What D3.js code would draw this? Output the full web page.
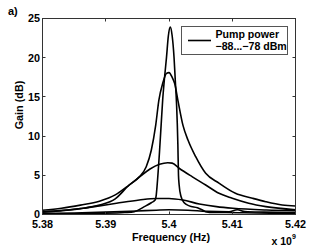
<!DOCTYPE html>
<html><head><meta charset="utf-8">
<script src="https://cdn.jsdelivr.net/npm/d3@7"></script>
<style>
html,body{margin:0;padding:0;background:#fff;}
svg text{font-family:"Liberation Sans",Arial,sans-serif;font-weight:bold;fill:#000;}
</style></head>
<body>
<svg id="chart" width="327" height="246"></svg>
<script>
// ---- data (frequency in units of 1e9 Hz, gain in dB) ----
const freqA = [5.380,5.385,5.390,5.393,5.3945,5.3961,5.3972,5.3978,5.3980,5.3981,5.3985,5.3988,5.3990,5.3993,5.3996,5.3999,5.4002,5.4005,5.4008,5.4010,5.4012,5.4014,5.4015,5.4016,5.4019,5.4024,5.4032,5.4045,5.4052,5.4058,5.4070,5.4090,5.4120,5.4160,5.4200];
const gainA = [0.10,0.10,0.15,0.25,0.36,1.00,1.50,1.85,2.60,3.50,8.00,12.0,14.6,17.5,20.0,22.8,23.9,22.8,20.0,17.0,14.0,9.00,5.00,3.80,2.30,1.50,1.10,0.85,0.60,0.36,0.25,0.25,0.22,0.18,0.15];

const freqB = [5.380,5.383,5.386,5.389,5.3915,5.3937,5.3953,5.3964,5.3972,5.3979,5.3984,5.3990,5.3996,5.4000,5.4005,5.4009,5.4014,5.4022,5.4030,5.4042,5.4058,5.4079,5.4105,5.4132,5.4153,5.4179,5.4200];
const gainB = [0.35,0.50,0.75,1.20,2.00,3.76,4.80,6.10,8.20,11.4,14.6,16.7,18.0,18.1,17.5,16.7,14.6,11.4,9.50,7.40,5.25,4.00,2.70,2.07,1.63,1.21,1.08];

const freqC = [5.380,5.383,5.386,5.389,5.3915,5.3937,5.3955,5.3970,5.3985,5.3998,5.4005,5.4016,5.4037,5.4058,5.4079,5.4100,5.4126,5.4153,5.4200];
const gainC = [0.55,0.80,1.20,1.70,2.50,3.76,4.90,5.80,6.40,6.60,6.55,5.90,4.80,3.76,2.70,2.07,1.43,1.00,0.60];

const freqD = [5.380,5.383,5.3864,5.389,5.3917,5.3953,5.3980,5.4000,5.4022,5.4048,5.4075,5.4101,5.4154,5.4200];
const gainD = [0.30,0.50,0.79,1.10,1.43,1.85,2.05,2.05,1.85,1.34,1.00,0.79,0.57,0.48];

const freqE = [5.380,5.385,5.390,5.395,5.398,5.400,5.403,5.406,5.4095,5.4108,5.4120,5.415,5.420];
const gainE = [0.15,0.20,0.30,0.45,0.55,0.60,0.55,0.40,0.35,0.60,0.38,0.30,0.25];

const xTicks = [5.38,5.39,5.40,5.41,5.42];
const xTickLabels = ["5.38","5.39","5.4","5.41","5.42"];
const yTicks = [0,5,10,15,20,25];
const legendLines = ["Pump power","\u221288...\u221278 dBm"];

const series = [
  {f:freqE,g:gainE},{f:freqD,g:gainD},{f:freqC,g:gainC},{f:freqB,g:gainB},{f:freqA,g:gainA}
];

// ---- layout ----
const svg = d3.select("#chart");
const L=42.5, R=295.5, T=18.5, B=214.5;
const x = d3.scaleLinear().domain([5.38,5.42]).range([L,R]);
const y = d3.scaleLinear().domain([0,25]).range([B,T]);

svg.append("defs").append("clipPath").attr("id","pc")
  .append("rect").attr("x",L).attr("y",T-2).attr("width",R-L).attr("height",B-T+2);

// curves
const line = d3.line().x(d=>x(d[0])).y(d=>y(d[1])).curve(d3.curveMonotoneX);
svg.append("g").attr("clip-path","url(#pc)").selectAll("path").data(series).join("path")
  .attr("d",s=>line(s.f.map((v,i)=>[v,s.g[i]])))
  .attr("fill","none").attr("stroke","#000").attr("stroke-width",1.6).attr("stroke-linejoin","round");

// axes box with inward ticks on all sides
const ax = svg.append("g");
ax.append("rect").attr("x",L).attr("y",T).attr("width",R-L).attr("height",B-T)
  .attr("fill","none").attr("stroke","#333").attr("stroke-width",1);
const tl = 3;
xTicks.forEach(t=>{
  const px = Math.round(x(t)-0.5)+0.5;
  ax.append("line").attr("x1",px).attr("x2",px).attr("y1",B).attr("y2",B-tl).attr("stroke","#333");
  ax.append("line").attr("x1",px).attr("x2",px).attr("y1",T).attr("y2",T+tl).attr("stroke","#333");
});
yTicks.forEach(t=>{
  const py = Math.round(y(t)-0.5)+0.5;
  ax.append("line").attr("x1",L).attr("x2",L+tl).attr("y1",py).attr("y2",py).attr("stroke","#333");
  ax.append("line").attr("x1",R).attr("x2",R-tl).attr("y1",py).attr("y2",py).attr("stroke","#333");
});

// tick labels
svg.append("g").selectAll("text").data(xTicks).join("text")
  .attr("x",d=>x(d)).attr("y",227.5).attr("text-anchor","middle").attr("font-size",10.8)
  .text((d,i)=>xTickLabels[i]);
svg.append("g").selectAll("text").data(yTicks).join("text")
  .attr("x",40).attr("y",d=>y(d)+3.8).attr("text-anchor","end").attr("font-size",10.8)
  .text(d=>d);

// axis labels
svg.append("text").attr("x",171).attr("y",240.5).attr("text-anchor","middle").attr("font-size",10.8)
  .text("Frequency (Hz)");
svg.append("text").attr("transform","translate(22.5,105) rotate(-90)").attr("text-anchor","middle")
  .attr("font-size",10.8).text("Gain (dB)");
svg.append("text").attr("x",8).attr("y",15).attr("font-size",11).text("a)");
const ex = svg.append("text").attr("x",271.5).attr("y",245).attr("font-size",10.5);
ex.append("tspan").text("x 10");
ex.append("tspan").attr("dy",-6).attr("font-size",7).text("9");

// legend
const lg = svg.append("g");
lg.append("rect").attr("x",181.5).attr("y",26.5).attr("width",106).attr("height",28)
  .attr("fill","#fff").attr("stroke","#555").attr("stroke-width",1);
lg.append("line").attr("x1",188).attr("x2",211).attr("y1",40.5).attr("y2",40.5)
  .attr("stroke","#000").attr("stroke-width",1.6);
lg.selectAll("text.l").data(legendLines).join("text").attr("class","l")
  .attr("x",215.5).attr("y",(d,i)=>37.5+i*12).attr("font-size",10.6).text(d=>d);
</script>
</body></html>
